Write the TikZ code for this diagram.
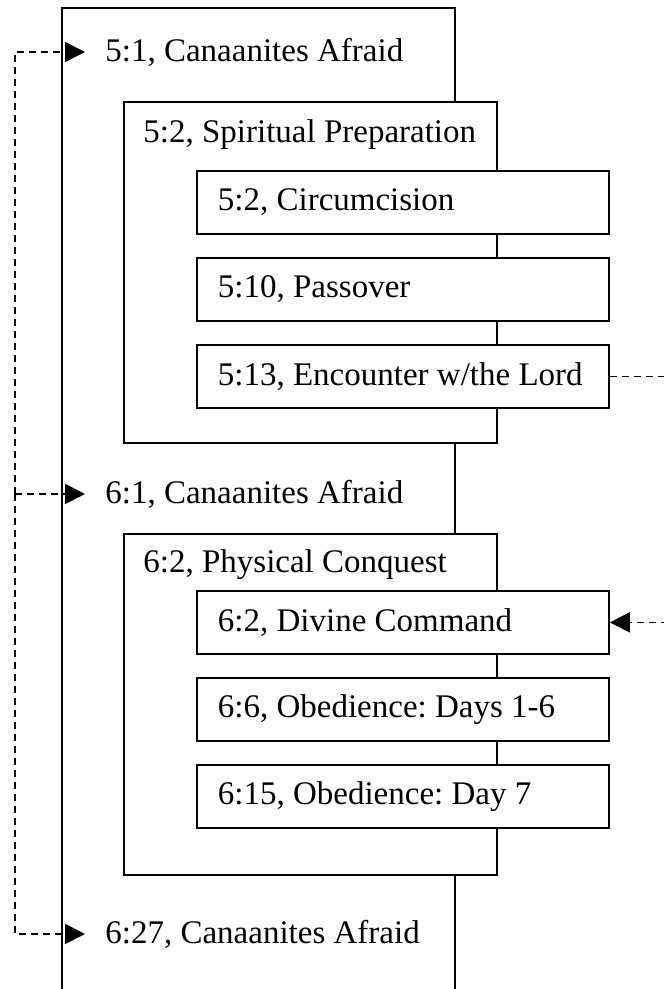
\documentclass[tikz,border=0pt]{standalone}
\usepackage{fontspec}
\setmainfont{Liberation Serif}
\usetikzlibrary{arrows.meta}

\tikzset{
  wall/.style={line width=0.9pt},
  sect/.style={line width=0.9pt, fill=white},
  eventbox/.style={draw, line width=0.9pt, fill=white, anchor=north west,
    minimum width=206pt, minimum height=31.5pt, inner xsep=10.5pt, inner ysep=0pt,
    execute at begin node=\hbox to 185pt\bgroup, execute at end node=\hss\egroup},
  headtxt/.style={anchor=west, inner sep=0pt},
  tag/.style={anchor=west, inner xsep=10pt, inner ysep=0pt},
  link/.style={->, dash pattern=on 3.5pt off 2.5pt, line width=0.9pt},
}

\begin{document}
\begin{tikzpicture}[x=0.5pt, y=-0.5pt, >={Triangle[length=10pt,width=10pt]},
  font=\fontsize{16.5}{20}\selectfont\frenchspacing]
\useasboundingbox (0,0) rectangle (663,989);
% outer block
\draw[wall] (62,989) |- (455,8) -- (455,989);
% spiritual preparation
\draw[sect] (124,102) rectangle (497,443);
\node[headtxt] (spirit) at (143,135) {5:2, Spiritual Preparation};
\node[eventbox] (circ) at (196,170) {5:2, Circumcision};
\node[eventbox] (pass) at (196,257) {5:10, Passover};
\node[eventbox] (enc) at (196,344) {5:13, Encounter w/the Lord};
% physical conquest
\draw[sect] (124,534) rectangle (497,875);
\node[headtxt] (phys) at (143,565) {6:2, Physical Conquest};
\node[eventbox] (cmd) at (196,590) {6:2, Divine Command};
\node[eventbox] (days) at (196,677) {6:6, Obedience: Days 1-6};
\node[eventbox] (day7) at (196,764) {6:15, Obedience: Day 7};
% canaanites afraid
\node[tag] (afr1) at (85,52) {5:1, Canaanites Afraid};
\node[tag] (afr2) at (85,494) {6:1, Canaanites Afraid};
\node[tag] (afr3) at (85,934) {6:27, Canaanites Afraid};
% dashed links
\coordinate (hub) at (15,494);
\draw[link] (hub) |- (afr1.west);
\draw[link] (hub) -- (afr2.west);
\draw[link] (hub) |- (afr3.west);
\draw[link] (enc.east) -- ++(80,0) |- (cmd.east);
\end{tikzpicture}
\end{document}
